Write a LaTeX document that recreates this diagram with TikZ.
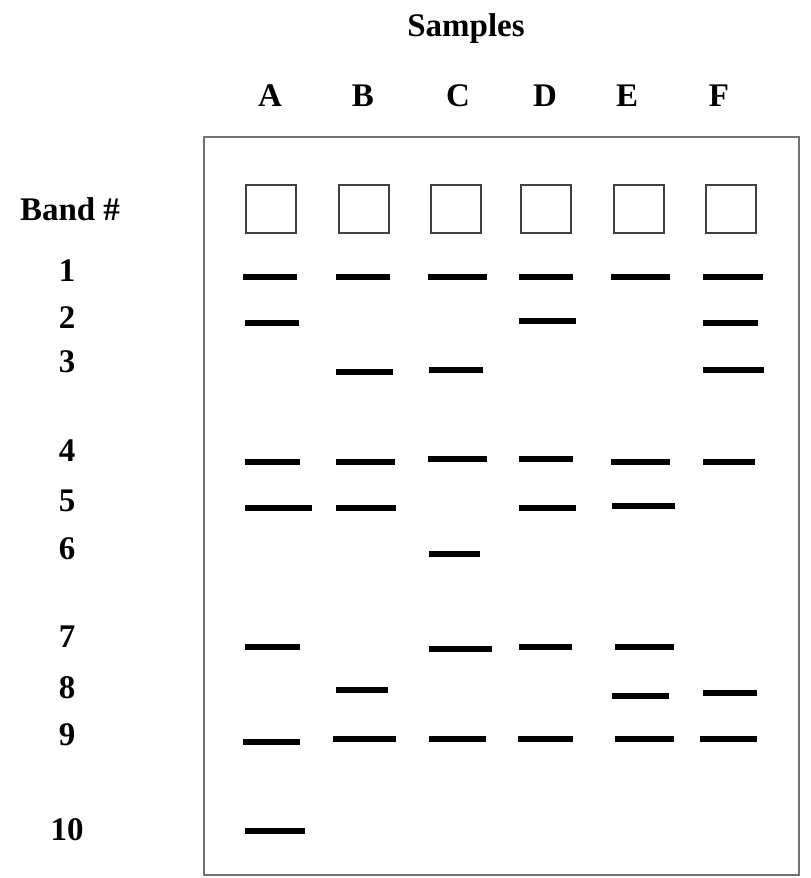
\documentclass[tikz,border=0pt]{standalone}
\usepackage{fontspec}
\setmainfont{Liberation Serif}
\usetikzlibrary{positioning}

\begin{document}
\begin{tikzpicture}[x=0.5pt,y=-0.5pt,
		lbl/.style={font=\fontsize{16.5}{18}\selectfont\bfseries,inner sep=0pt},
		well/.style={draw=black!75,line width=0.8pt,minimum width=25pt,minimum height=24pt,inner sep=0pt},
		band/.style={line width=3.3pt}]
		\useasboundingbox (0,0) rectangle (810,878);
		% gel outline
		\draw[black!55,line width=1pt] (204,137) rectangle (799,875);
		% headings
		\node[lbl] (samples) at (466,29) {Samples};
		\node[lbl] (bandhead) at (70,209) {Band \#};
		% lane letters and wells
		\foreach \lane/\x/\lx in {A/271/270,B/364/363,C/456/458,D/546/545,E/639/627,F/731/719}{
			\node[lbl] (lab\lane) at (\lx,96) {\lane};
			\node[well] (well\lane) at (\x,209) {};
		}
		% band numbers
		\foreach \n/\y in {1/271,2/318,3/362,4/451,5/501,6/549,7/637,8/688,9/735,10/830}{
			\node[lbl] (num\n) at (67,\y) {\n};
		}
		% bands
		\foreach \xa/\xb/\y in {243/297/277,336/390/277,428/487/277,519/573/277,611/670/277,703/763/277,
			245/299/323,519/576/321,703/758/323,
			336/393/372,429/483/370,703/764/370,
			245/300/462,336/395/462,428/487/459,519/573/459,611/670/462,703/755/462,
			245/312/508,336/396/508,519/576/508,612/675/506,
			429/480/554,
			245/300/647,429/492/649,519/572/647,615/674/647,
			336/388/690,612/669/696,703/757/693,
			243/300/742,333/396/739,429/486/739,518/573/739,615/674/739,700/757/739,
			245/305/831}{
			\draw[band] (\xa,\y) -- (\xb,\y);
		}
	\end{tikzpicture}
\end{document}
